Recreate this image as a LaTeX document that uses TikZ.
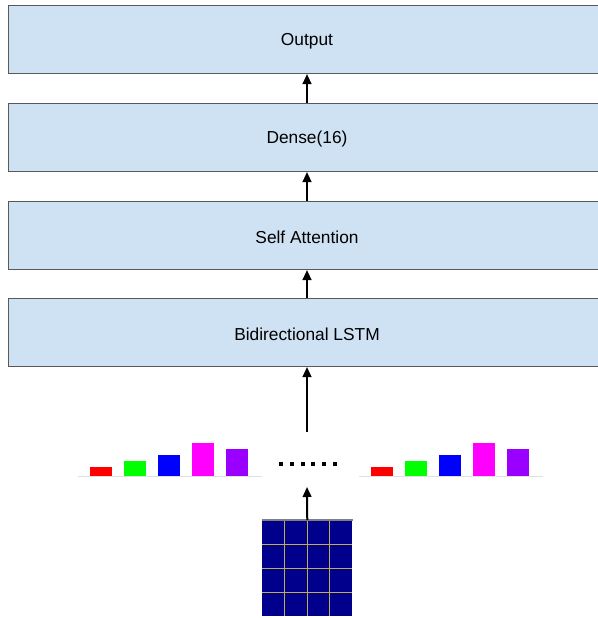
\documentclass[tikz,border=0pt]{standalone}
\usepackage{fontspec}
\setmainfont{Liberation Sans}
\usetikzlibrary{arrows.meta}
\definecolor{boxfill}{HTML}{CFE2F3}
\definecolor{boxline}{HTML}{595959}
\definecolor{navy}{RGB}{0,0,140}
\definecolor{gridyel}{RGB}{190,175,80}
\definecolor{purp}{RGB}{153,0,255}
\definecolor{magen}{RGB}{255,0,255}
\definecolor{gre}{RGB}{0,255,0}
\definecolor{blu}{RGB}{0,0,255}
\definecolor{re}{RGB}{255,0,0}
\begin{document}
\begin{tikzpicture}[x=0.75pt,y=-0.75pt,
  layer/.style={draw=boxline,line width=0.75pt,fill=boxfill,minimum width=600*0.75pt,minimum height=68*0.75pt,anchor=north west,inner sep=0pt},
  lbl/.style={font=\fontsize{13}{15}\selectfont},
  conn/.style={line width=1.5pt,-{Triangle[length=7.5pt,width=6.5pt]}}]
\useasboundingbox (0,0) rectangle (597,618);
\node[layer] (out) at (8,5) {};
\node[layer] (dense) at (8,103) {};
\node[layer] (att) at (8,201) {};
\node[layer] (lstm) at (8,298) {};
\node[lbl] (tout) at (307,41.5) {Output};
\node[lbl] (tdense) at (307,139.5) {Dense(16)};
\node[lbl] (tatt) at (307,237.5) {Self Attention};
\node[lbl] (tlstm) at (307,334.5) {Bidirectional LSTM};
\coordinate (cx) at (307,0);
\draw[conn] (dense.north -| cx) -- (out.south -| cx);
\draw[conn] (att.north -| cx) -- (dense.south -| cx);
\draw[conn] (lstm.north -| cx) -- (att.south -| cx);
% bars
\foreach \dx in {0,281}{
  \draw[line width=0.75pt,black!12] (78+\dx,476) -- (262+\dx,476);
  \fill[re] (90+\dx,476) rectangle (112+\dx,467);
  \fill[gre] (124+\dx,476) rectangle (146+\dx,461);
  \fill[blu] (158+\dx,476) rectangle (180+\dx,455);
  \fill[magen] (192+\dx,476) rectangle (214+\dx,443);
  \fill[purp] (226+\dx,476) rectangle (248+\dx,449);
}
\coordinate (barstop) at (307,432);
\draw[conn] (barstop) -- (lstm.south -| cx);
\foreach \i in {0,...,5}{
  \fill (279+\i*10.8,461.5) rectangle (283+\i*10.8,465.5);
}
% matrix
\node[draw=none,fill=navy,minimum width=90*0.75pt,minimum height=96*0.75pt,inner sep=0pt,anchor=north west] (mat) at (262,520) {};
\foreach \i in {1,2,3}{
  \draw[gridyel,line width=0.75pt] (262+\i*22.5,520) -- (262+\i*22.5,616);
  \draw[gridyel,line width=0.75pt] (262,520+\i*24) -- (352,520+\i*24);
}
\draw[gray,line width=0.9pt] (mat.north west) -- (mat.north east);
\coordinate (matarr) at (307,487);
\draw[conn] (mat.north) -- (matarr);
\end{tikzpicture}
\end{document}
